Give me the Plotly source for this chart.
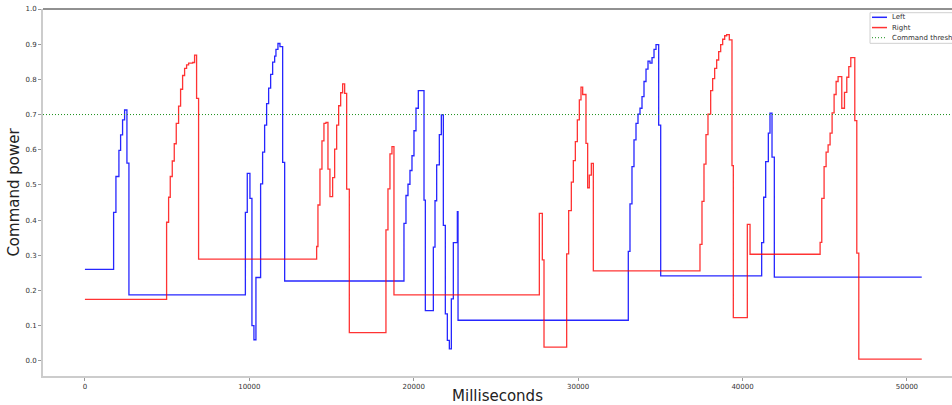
import plotly.graph_objects as go

# Left (blue) command power: change times (ms) and values (steps-post)
left_t = [0, 1745, 1886, 2068, 2170, 2290, 2413, 2555, 2677, 9760, 9875, 10037, 10159, 10280, 10402,
          10686, 10808, 10930, 11052, 11174, 11296, 11418, 11540, 11619, 11741, 11863, 12027, 12149,
          19406, 19528, 19650, 19771, 19893, 20015, 20137, 20279, 20625, 20706, 21193, 21294, 21395,
          21557, 21679, 21801, 21922, 22044, 22166, 22288, 22409, 22653, 22694, 33051, 33154, 33275,
          33397, 33519, 33641, 33762, 33884, 34006, 34128, 34249, 34371, 34493, 34615, 34737, 34899,
          35021, 41163, 41285, 41407, 41569, 41670, 41792, 41933, 50900]
left_v = [0.26, 0.422, 0.524, 0.598, 0.642, 0.685, 0.713, 0.562, 0.1875, 0.422, 0.533, 0.462, 0.100,
          0.060, 0.237, 0.503, 0.593, 0.670, 0.731, 0.775, 0.814, 0.849, 0.866, 0.885, 0.902, 0.893,
          0.564, 0.227, 0.391, 0.470, 0.502, 0.541, 0.583, 0.654, 0.718, 0.768, 0.457, 0.143, 0.323,
          0.455, 0.557, 0.643, 0.699, 0.385, 0.1335, 0.058, 0.034, 0.176, 0.336, 0.424, 0.1155, 0.311,
          0.446, 0.552, 0.628, 0.675, 0.701, 0.718, 0.751, 0.794, 0.829, 0.852, 0.846, 0.862, 0.885,
          0.899, 0.670, 0.2415, 0.336, 0.465, 0.566, 0.647, 0.704, 0.579, 0.238, 0.238]

# Right (red) command power
right_t = [0, 4968, 5090, 5190, 5312, 5434, 5555, 5697, 5819, 5941, 6063, 6184, 6306, 6550, 6670, 6792,
           6914, 14094, 14174, 14296, 14418, 14539, 14661, 14783, 14904, 15067, 15189, 15311, 15433,
           15555, 15676, 15798, 15920, 16082, 18310, 18432, 18554, 18676, 18797, 27640, 27822, 27924,
           29302, 29424, 29586, 29708, 29830, 29951, 30073, 30174, 30276, 30477, 30579, 30680, 30802,
           30924, 37411, 37533, 37655, 37776, 37898, 38061, 38182, 38304, 38426, 38548, 38670, 38791,
           38913, 39035, 39195, 39358, 39439, 40291, 40456, 44718, 44819, 44960, 45082, 45204, 45325,
           45447, 45569, 45691, 45812, 46036, 46200, 46340, 46462, 46584, 46827, 46949, 47071, 50900]
right_v = [0.175, 0.394, 0.465, 0.524, 0.568, 0.617, 0.675, 0.724, 0.772, 0.811, 0.831, 0.841, 0.846,
           0.848, 0.869, 0.746, 0.289, 0.325, 0.443, 0.545, 0.625, 0.675, 0.678, 0.545, 0.467, 0.521,
           0.602, 0.670, 0.725, 0.762, 0.787, 0.760, 0.488, 0.080, 0.372, 0.489, 0.588, 0.609, 0.1875,
           0.419, 0.287, 0.039, 0.304, 0.427, 0.508, 0.569, 0.623, 0.685, 0.742, 0.778, 0.757, 0.618,
           0.492, 0.528, 0.561, 0.2557, 0.331, 0.453, 0.559, 0.643, 0.701, 0.768, 0.802, 0.831, 0.855,
           0.879, 0.899, 0.914, 0.924, 0.927, 0.912, 0.555, 0.123, 0.388, 0.303, 0.337, 0.462, 0.552,
           0.593, 0.614, 0.647, 0.705, 0.757, 0.794, 0.808, 0.718, 0.763, 0.806, 0.836, 0.862, 0.683,
           0.306, 0.005, 0.005]

threshold = 0.7
x_ticks = [0, 10000, 20000, 30000, 40000, 50000]
y_ticks = [0.0, 0.1, 0.2, 0.3, 0.4, 0.5, 0.6, 0.7, 0.8, 0.9, 1.0]
series_names = ["Left", "Right", "Command threshold"]

FONT = "DejaVu Sans"
BLUE = "rgba(0,0,255,0.85)"
RED = "rgba(255,0,0,0.8)"
GREEN = "#1a8f1a"
DOT = "1px,2px"

fig = go.Figure()
fig.add_trace(go.Scatter(x=left_t, y=left_v, mode="lines", name=series_names[0],
                         line=dict(color=BLUE, width=1.3, shape="hv")))
fig.add_trace(go.Scatter(x=right_t, y=right_v, mode="lines", name=series_names[1],
                         line=dict(color=RED, width=1.3, shape="hv")))

fig.add_shape(type="line", xref="x domain", yref="y", x0=0, x1=1, y0=threshold, y1=threshold,
              line=dict(color=GREEN, width=1, dash=DOT))
# top spine
fig.add_shape(type="line", xref="paper", yref="paper", x0=0, x1=1, y0=1, y1=1,
              line=dict(color="#222222", width=1))

# matplotlib-style legend box (partly outside the visible page, as in the reference)
fig.add_shape(type="rect", xref="paper", yref="paper", x0=0.9098, x1=1.12, y0=0.9065, y1=0.9899,
              line=dict(color="#d0d0d0", width=1), fillcolor="rgba(255,255,255,0.85)")
leg_rows = [0.9774, 0.9494, 0.9218]
leg_styles = [dict(color=BLUE, width=1.5), dict(color=RED, width=1.5),
              dict(color=GREEN, width=1, dash=DOT)]
for name, yy, st in zip(series_names, leg_rows, leg_styles):
    fig.add_shape(type="line", xref="paper", yref="paper", x0=0.912, x1=0.9285, y0=yy, y1=yy, line=st)
    fig.add_annotation(xref="paper", yref="paper", x=0.9315, y=yy, text=name, showarrow=False,
                       xanchor="left", yanchor="middle",
                       font=dict(family=FONT, size=7, color="#333333"))

fig.update_layout(
    width=952, height=405,
    margin=dict(l=43, r=0, t=9, b=29, autoexpand=False),
    plot_bgcolor="white", paper_bgcolor="white",
    font=dict(family=FONT, size=7, color="#333333"),
    showlegend=False,
    xaxis=dict(range=[-2550, 52740], tickvals=x_ticks, ticktext=[str(v) for v in x_ticks],
               showgrid=False, zeroline=False, showline=True, linecolor="#cccccc", linewidth=2,
               ticks="outside", ticklen=3, tickcolor="#999999", automargin=False,
               title=dict(text="Milliseconds", font=dict(family=FONT, size=15, color="#222222"),
                          standoff=0)),
    yaxis=dict(range=[-0.043, 1.0], tickvals=y_ticks, ticktext=[f"{v:.1f}" for v in y_ticks],
               showgrid=False, zeroline=False, showline=True, linecolor="#cccccc", linewidth=2,
               ticks="outside", ticklen=3, tickcolor="#999999", automargin=False,
               title=dict(text="Command power", font=dict(family=FONT, size=15, color="#222222"),
                          standoff=2)),
)

fig.write_html("out.html", config={"displayModeBar": False},
               post_script="document.body.style.margin='0';document.body.style.padding='0';")
